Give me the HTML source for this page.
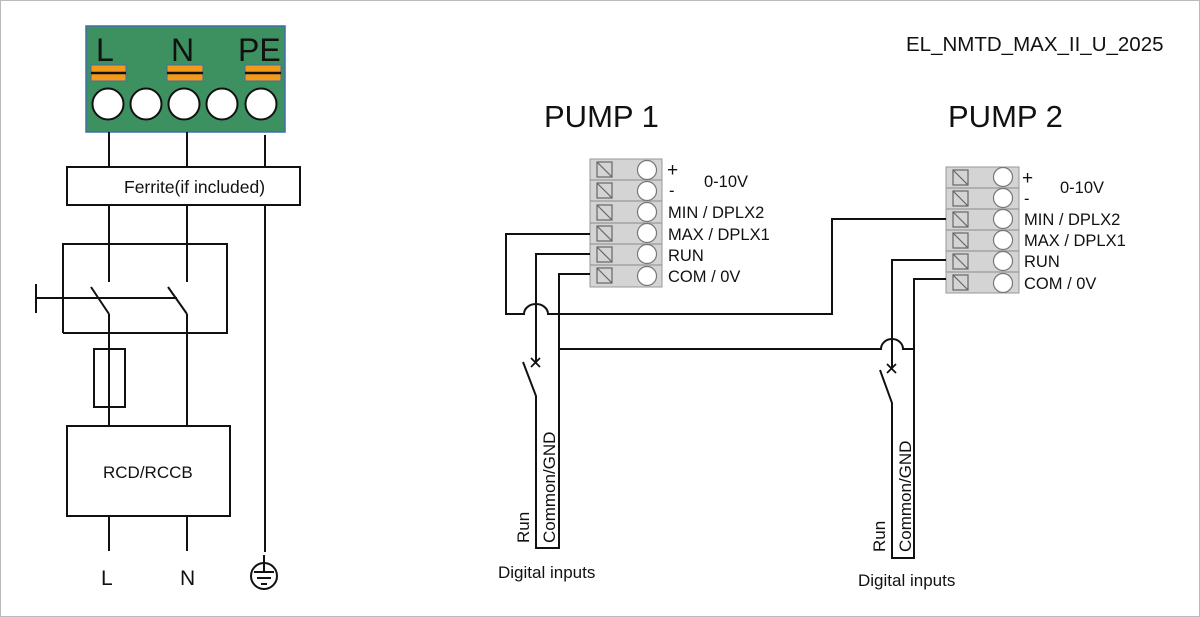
<!DOCTYPE html>
<html><head><meta charset="utf-8"><style>
html,body{margin:0;padding:0;background:#fff}
svg{display:block}
text{font-family:"Liberation Sans",sans-serif;fill:#111}
</style></head><body>
<svg width="1200" height="617" viewBox="0 0 1200 617" xmlns="http://www.w3.org/2000/svg">
<rect x="0.5" y="0.5" width="1199" height="616" fill="#fff" stroke="#bbb"/>
<!-- green terminal -->
<rect x="86" y="26" width="199" height="106" fill="#3d9160" stroke="#3f6fa8" stroke-width="1.5"/>
<text x="96" y="61" font-size="32">L</text>
<text x="171" y="61" font-size="32">N</text>
<text x="238" y="61" font-size="32">PE</text>
<g stroke="#3f6fa8" stroke-width="1">
<rect x="91" y="65" width="35" height="16" fill="#f39a1a"/>
<rect x="167" y="65" width="36" height="16" fill="#f39a1a"/>
<rect x="245" y="65" width="36" height="16" fill="#f39a1a"/>
</g>
<g stroke="#111" stroke-width="2.5">
<line x1="91" y1="73" x2="126" y2="73"/><line x1="167" y1="73" x2="203" y2="73"/><line x1="245" y1="73" x2="281" y2="73"/>
</g>
<g fill="#fff" stroke="#111" stroke-width="2">
<circle cx="108" cy="104" r="15.5"/><circle cx="146" cy="104" r="15.5"/><circle cx="184" cy="104" r="15.5"/><circle cx="222" cy="104" r="15.5"/><circle cx="261" cy="104" r="15.5"/>
</g>
<g stroke="#111" stroke-width="2" fill="none">
<line x1="109" y1="132" x2="109" y2="167"/><line x1="187" y1="132" x2="187" y2="167"/><line x1="265" y1="135" x2="265" y2="167"/>
<rect x="67" y="167" width="233" height="38"/>
<line x1="109" y1="205" x2="109" y2="282"/><line x1="187" y1="205" x2="187" y2="282"/>
<line x1="265" y1="205" x2="265" y2="552"/>
<polyline points="63,333 63,244 227,244 227,333 63,333"/>
<line x1="91" y1="287" x2="109" y2="314"/><line x1="168" y1="287" x2="187" y2="314"/>
<line x1="36" y1="298" x2="177" y2="298"/><line x1="36" y1="284" x2="36" y2="313"/>
<line x1="109" y1="314" x2="109" y2="426"/><line x1="187" y1="314" x2="187" y2="426"/>
<rect x="94" y="349" width="31" height="58"/>
<rect x="67" y="426" width="163" height="90"/>
<line x1="109" y1="516" x2="109" y2="551"/><line x1="187" y1="516" x2="187" y2="551"/>
<circle cx="264" cy="576" r="13"/>
<line x1="264" y1="555" x2="264" y2="572"/>
<line x1="254" y1="572" x2="274" y2="572"/><line x1="257" y1="578" x2="271" y2="578"/><line x1="261" y1="584" x2="267" y2="584"/>
</g>
<text x="124" y="193" font-size="17.5">Ferrite(if included)</text>
<text x="103" y="478" font-size="17">RCD/RCCB</text>
<text x="101" y="585" font-size="21">L</text>
<text x="180" y="585" font-size="21">N</text>

<text x="906" y="51" font-size="20.5">EL_NMTD_MAX_II_U_2025</text>
<text x="544" y="127" font-size="31">PUMP 1</text>
<text x="948" y="127" font-size="31">PUMP 2</text>

<!-- pump1 block -->
<g>
<rect x="590" y="159" width="72" height="128" fill="#d4d4d4" stroke="#999"/>
<g stroke="#999" stroke-width="1.2"><line x1="590" y1="180" x2="662" y2="180"/><line x1="590" y1="201" x2="662" y2="201"/><line x1="590" y1="223" x2="662" y2="223"/><line x1="590" y1="244" x2="662" y2="244"/><line x1="590" y1="265" x2="662" y2="265"/></g>
<g fill="none" stroke="#666" stroke-width="1.2">
<rect x="597" y="162" width="15" height="15"/><line x1="597" y1="162" x2="612" y2="177"/>
<rect x="597" y="183" width="15" height="15"/><line x1="597" y1="183" x2="612" y2="198"/>
<rect x="597" y="205" width="15" height="15"/><line x1="597" y1="205" x2="612" y2="220"/>
<rect x="597" y="226" width="15" height="15"/><line x1="597" y1="226" x2="612" y2="241"/>
<rect x="597" y="247" width="15" height="15"/><line x1="597" y1="247" x2="612" y2="262"/>
<rect x="597" y="268" width="15" height="15"/><line x1="597" y1="268" x2="612" y2="283"/>
</g>
<g fill="#fff" stroke="#777" stroke-width="1.2">
<circle cx="647" cy="170" r="9.5"/><circle cx="647" cy="191" r="9.5"/><circle cx="647" cy="212" r="9.5"/><circle cx="647" cy="233" r="9.5"/><circle cx="647" cy="254" r="9.5"/><circle cx="647" cy="276" r="9.5"/>
</g>
<g font-size="16.5"><text x="667" y="176" font-size="19">+</text><text x="704" y="187">0-10V</text><text x="669" y="196">-</text><text x="668" y="218">MIN / DPLX2</text><text x="668" y="240">MAX / DPLX1</text><text x="668" y="261">RUN</text><text x="668" y="282">COM / 0V</text></g>
</g>
<!-- pump2 block -->
<g>
<rect x="946" y="167" width="73" height="126" fill="#d4d4d4" stroke="#999"/>
<g stroke="#999" stroke-width="1.2"><line x1="946" y1="188" x2="1019" y2="188"/><line x1="946" y1="209" x2="1019" y2="209"/><line x1="946" y1="230" x2="1019" y2="230"/><line x1="946" y1="251" x2="1019" y2="251"/><line x1="946" y1="272" x2="1019" y2="272"/></g>
<g fill="none" stroke="#666" stroke-width="1.2">
<rect x="953" y="170" width="15" height="15"/><line x1="953" y1="170" x2="968" y2="185"/>
<rect x="953" y="191" width="15" height="15"/><line x1="953" y1="191" x2="968" y2="206"/>
<rect x="953" y="212" width="15" height="15"/><line x1="953" y1="212" x2="968" y2="227"/>
<rect x="953" y="233" width="15" height="15"/><line x1="953" y1="233" x2="968" y2="248"/>
<rect x="953" y="254" width="15" height="15"/><line x1="953" y1="254" x2="968" y2="269"/>
<rect x="953" y="275" width="15" height="15"/><line x1="953" y1="275" x2="968" y2="290"/>
</g>
<g fill="#fff" stroke="#777" stroke-width="1.2">
<circle cx="1003" cy="177" r="9.5"/><circle cx="1003" cy="198" r="9.5"/><circle cx="1003" cy="219" r="9.5"/><circle cx="1003" cy="240" r="9.5"/><circle cx="1003" cy="261" r="9.5"/><circle cx="1003" cy="283" r="9.5"/>
</g>
<g font-size="16.5"><text x="1022" y="184" font-size="19">+</text><text x="1060" y="193">0-10V</text><text x="1024" y="204">-</text><text x="1024" y="225">MIN / DPLX2</text><text x="1024" y="246">MAX / DPLX1</text><text x="1024" y="267">RUN</text><text x="1024" y="289">COM / 0V</text></g>
</g>

<!-- wires -->
<g stroke="#111" stroke-width="2" fill="none">
<path d="M590,234 H506 V314 H524 A12,10 0 0 1 548,314 H832 V219 H946"/>
<path d="M590,254 H536 V363"/>
<path d="M531,358 L540,367 M540,358 L531,367" stroke-width="1.8"/>
<path d="M523,362 L536,396 V548 H559 V274 H590"/>
<path d="M559,349 H881 A11,10 0 0 1 903,349 H914"/>
<path d="M946,260 H892 V368"/>
<path d="M887,364 L896,373 M896,364 L887,373" stroke-width="1.8"/>
<path d="M880,370 L892,403 V558 H914 V279 H946"/>
</g>
<text transform="translate(529,543) rotate(-90)" font-size="17">Run</text>
<text transform="translate(555,543) rotate(-90)" font-size="17">Common/GND</text>
<text x="498" y="578" font-size="17">Digital inputs</text>
<text transform="translate(885,552) rotate(-90)" font-size="17">Run</text>
<text transform="translate(911,552) rotate(-90)" font-size="17">Common/GND</text>
<text x="858" y="586" font-size="17">Digital inputs</text>
</svg>
</body></html>
